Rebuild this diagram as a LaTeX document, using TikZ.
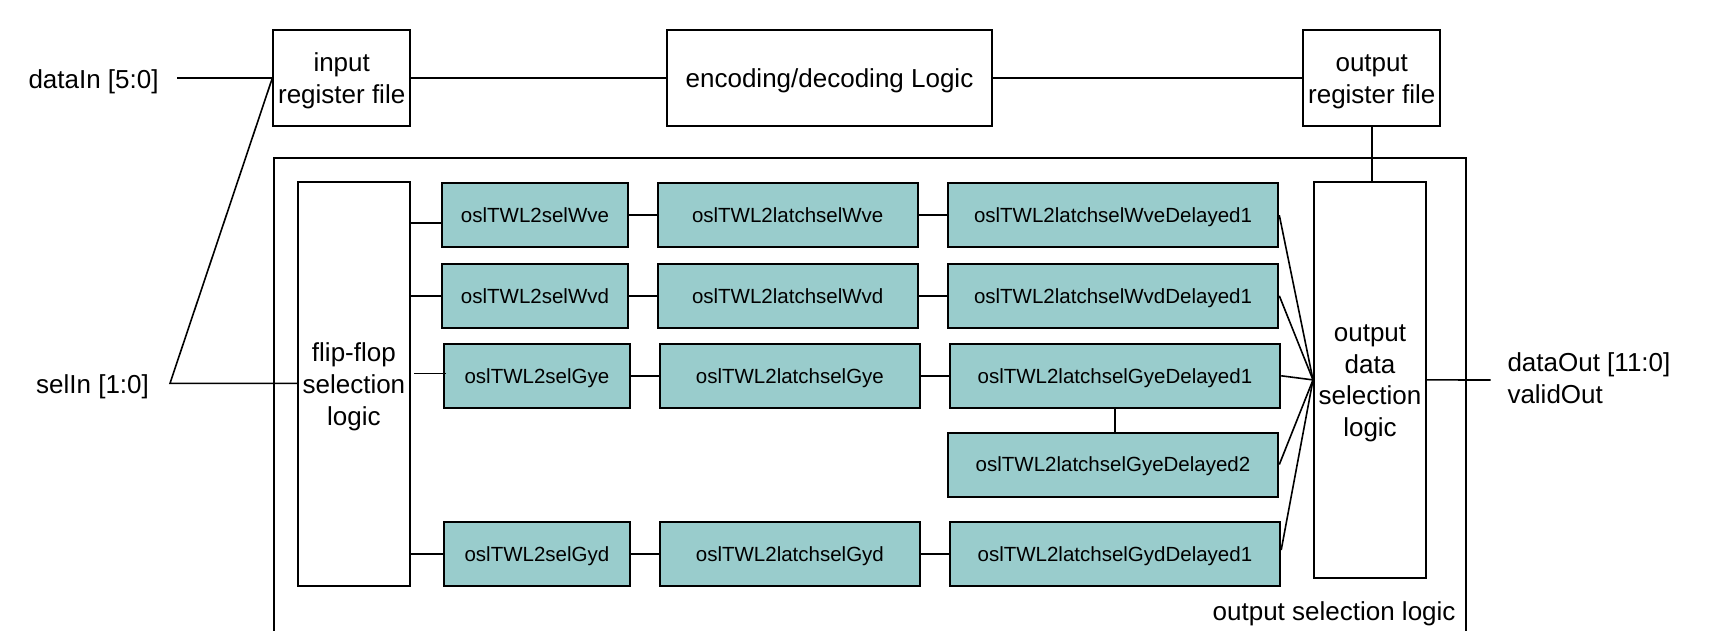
\documentclass[tikz,border=0pt]{standalone}
\usepackage{fontspec}
\setmainfont{Liberation Sans}
\definecolor{tealc}{RGB}{153,204,204}
\newcommand\topstr{\rule{0pt}{24.5pt}}
\newcommand\botstr{\rule[-6pt]{0pt}{6pt}}
\begin{document}
\begin{tikzpicture}[x=1pt,y=-1pt,
  box/.style={draw, line width=2pt, fill=white, inner sep=0pt, align=center,
    font=\fontsize{26}{31.6}\selectfont},
  tealbox/.style={draw, line width=2pt, fill=tealc, inner sep=0pt,
    minimum height=64pt, text height=14.7pt, text depth=0pt,
    font=\fontsize{20.5}{24}\selectfont},
  colA/.style={tealbox, minimum width=186.6pt},
  colB/.style={tealbox, minimum width=260pt},
  colC/.style={tealbox, minimum width=330.6pt},
  wire/.style={line width=1.6pt},
  lbl/.style={inner sep=0pt, font=\fontsize{26}{31.6}\selectfont},
  frame/.style={line width=1.8pt}]
\useasboundingbox (0,0) rectangle (1714,631);

% outer container (open at the bottom edge of the picture)
\draw[frame] (274,631) -- (274,157.7) -- (1465.7,157.7) -- (1465.7,631);

% top row
\node[box, minimum width=136.7pt, minimum height=96pt] (irf) at (341.7,78) {\topstr input\\register file\botstr};
\node[box, minimum width=324.4pt, minimum height=96pt, text height=18.6pt, text depth=0pt] (enc) at (829.5,78) {encoding/decoding Logic};
\node[box, minimum width=136.7pt, minimum height=96pt] (orf) at (1371.7,78) {\topstr output\\register file\botstr};

% big boxes
\node[box, minimum width=112.3pt, minimum height=403.7pt] (ffs) at (353.9,384.2) {\topstr flip-flop\\selection\\logic\botstr};
\node[box, minimum width=112pt, minimum height=395.7pt] (osl) at (1370,379.9) {\topstr output\\data\\selection\\logic\botstr};

% teal boxes
\node[colA] (a1) at (535,215.2) {oslTWL2selWve};
\node[colB] (b1) at (787.7,215.2) {oslTWL2latchselWve};
\node[colC] (c1) at (1113,215.2) {oslTWL2latchselWveDelayed1};
\node[colA] (a2) at (535,295.8) {oslTWL2selWvd};
\node[colB] (b2) at (787.7,295.8) {oslTWL2latchselWvd};
\node[colC] (c2) at (1113,295.8) {oslTWL2latchselWvdDelayed1};
\node[colA] (a3) at (536.9,375.8) {oslTWL2selGye};
\node[colB] (b3) at (789.9,375.8) {oslTWL2latchselGye};
\node[colC] (c3) at (1114.9,375.8) {oslTWL2latchselGyeDelayed1};
\node[colC] (c4) at (1113,464.5) {oslTWL2latchselGyeDelayed2};
\node[colA] (a5) at (536.9,554) {oslTWL2selGyd};
\node[colB] (b5) at (789.9,554) {oslTWL2latchselGyd};
\node[colC] (c5) at (1114.9,554) {oslTWL2latchselGydDelayed1};

% labels
\node[lbl, anchor=base west] (dIn) at (28.3,88.3) {dataIn [5:0]};
\node[lbl, anchor=base west] (sIn) at (36,393.3) {selIn [1:0]};
\node[lbl, anchor=west, align=left] (dOut) at (1507.3,378) {\topstr dataOut [11:0]\\validOut\botstr};
\node[lbl, anchor=base east] (oslbl) at (1455.7,620) {output selection logic};

% free ends
\coordinate (dInEnd) at (177.3,78);
\coordinate (sj) at (170,383.3);
\coordinate (dOutEnd) at (1490.7,380);
\coordinate (r1) at ([yshift=-8.1pt]a1.west);
\coordinate (r3) at ([xshift=3pt,yshift=2.5pt]a3.west);

% connectors
\draw[wire] (dInEnd) -- (irf.west);
\draw[wire] (irf.west) -- (sj) -- (sj -| ffs.west);
\draw[wire] (irf.east) -- (enc.west);
\draw[wire] (enc.east) -- (orf.west);
\draw[wire] (orf.south) -- (orf.south |- osl.north);
\draw[wire] (osl.east) -- (dOutEnd);

\draw[wire] (r1 -| ffs.east) -- (r1);
\draw[wire] (ffs.east |- a2.west) -- (a2.west);
\draw[wire] ([xshift=3pt]ffs.east |- r3) -- (r3);
\draw[wire] (ffs.east |- a5.west) -- (a5.west);

\draw[wire] (a1) -- (b1);
\draw[wire] (b1) -- (c1);
\draw[wire] (a2) -- (b2);
\draw[wire] (b2) -- (c2);
\draw[wire] (a3) -- (b3);
\draw[wire] (b3) -- (c3);
\draw[wire] (a5) -- (b5);
\draw[wire] (b5) -- (c5);
\draw[wire] (c3.south) -- (c3.south |- c4.north);

\draw[wire] (c1.east) -- (osl.west);
\draw[wire] (c2.east) -- (osl.west);
\draw[wire] (c3.east) -- (osl.west);
\draw[wire] (c4.east) -- (osl.west);
\draw[wire] ([yshift=4pt]c5.east) -- (osl.west);
\end{tikzpicture}
\end{document}
